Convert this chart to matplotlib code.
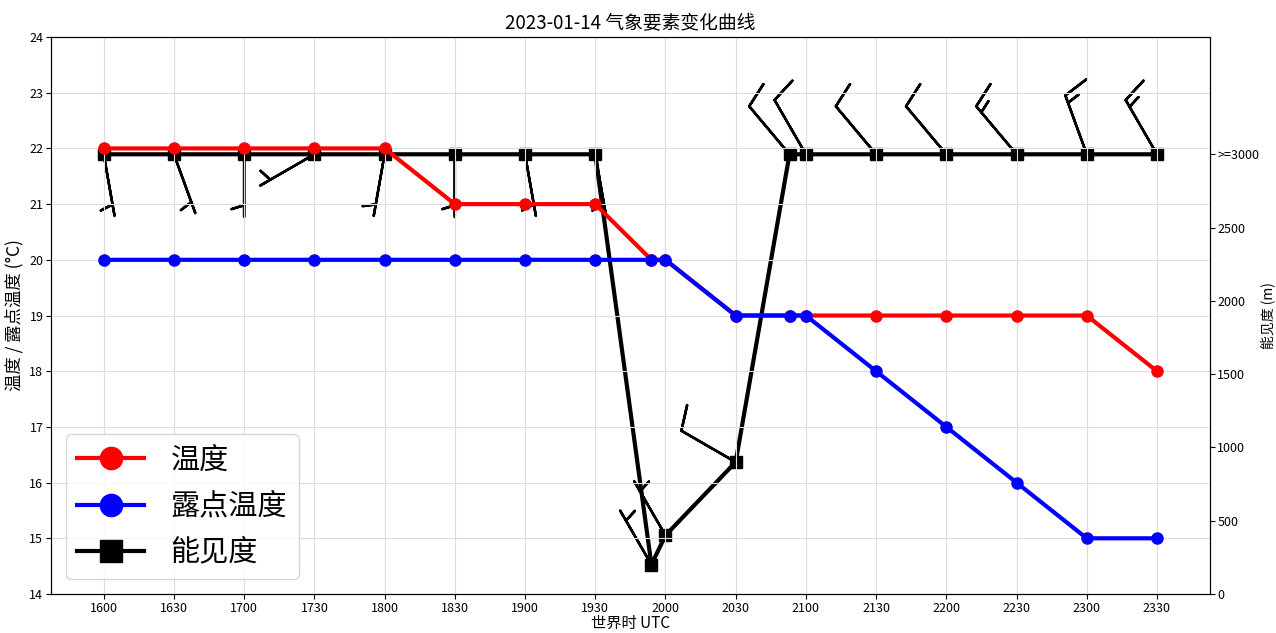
import numpy as np
import matplotlib
matplotlib.use("Agg")
import matplotlib.pyplot as plt

plt.rcParams['font.family'] = ['Noto Sans CJK SC', 'DejaVu Sans']
plt.rcParams['axes.unicode_minus'] = False

# observation times (UTC, hhmm)
times = ["1600", "1630", "1700", "1730", "1800", "1830", "1900", "1930", "1954",
         "2000", "2030", "2053", "2100", "2130", "2200", "2230", "2300", "2330"]
temperature = [22, 22, 22, 22, 22, 21, 21, 21, 20, 20, 19, 19, 19, 19, 19, 19, 19, 18]
dewpoint = [20, 20, 20, 20, 20, 20, 20, 20, 20, 20, 19, 19, 19, 18, 17, 16, 15, 15]
visibility = [3000, 3000, 3000, 3000, 3000, 3000, 3000, 3000, 200,
              400, 900, 3000, 3000, 3000, 3000, 3000, 3000, 3000]
wind_dir = [170, 160, 180, 240, 190, 180, 170, 170, 330, 330, 300, 320, 330, 320, 320, 320, 340, 330]
wind_speed = [5, 5, 5, 5, 5, 5, 5, 5, 5, 5, 10, 10, 10, 10, 10, 15, 15, 15]

tick_labels = ["1600", "1630", "1700", "1730", "1800", "1830", "1900", "1930",
               "2000", "2030", "2100", "2130", "2200", "2230", "2300", "2330"]


def to_minutes(t):
    return (int(t[:2]) - 16) * 60 + int(t[2:])


x = np.array([to_minutes(t) for t in times])
tick_pos = [to_minutes(t) for t in tick_labels]

# wind components from direction/speed
wd = np.radians(wind_dir)
u = -np.array(wind_speed) * np.sin(wd)
v = -np.array(wind_speed) * np.cos(wd)

fig, ax1 = plt.subplots(figsize=(12.76, 6.33), dpi=100)
fig.subplots_adjust(left=0.04, right=0.948, top=0.9415, bottom=0.0616)

l1, = ax1.plot(x, temperature, color='red', marker='o', markersize=8, linewidth=3, label='温度', zorder=2)
l2, = ax1.plot(x, dewpoint, color='blue', marker='o', markersize=8, linewidth=3, label='露点温度', zorder=3)
ax1.set_ylim(14, 24)
ax1.set_yticks(range(14, 25))
ax1.set_xticks(tick_pos)
ax1.set_xticklabels(tick_labels)
ax1.grid(True, color='#dddddd', linewidth=0.8)
ax1.set_xlabel('世界时 UTC', fontsize=11, labelpad=0)
ax1.set_ylabel('温度 / 露点温度 (°C)', fontsize=12.5)
ax1.set_title('2023-01-14 气象要素变化曲线', fontsize=13.5)
ax1.tick_params(labelsize=9, pad=2)

ax2 = ax1.twinx()
ax2.barbs(x, visibility, u, v, length=9.5, linewidth=1.8, barbcolor='black', zorder=3)
l3, = ax2.plot(x, visibility, color='black', marker='s', markersize=8, linewidth=3, label='能见度', zorder=4)
ax2.set_ylim(0, 3800)
ax2.set_yticks([0, 500, 1000, 1500, 2000, 2500, 3000])
ax2.set_yticklabels(['0', '500', '1000', '1500', '2000', '2500', '>=3000'])
ax2.set_ylabel('能见度 (m)', fontsize=10, labelpad=1)
ax2.tick_params(labelsize=9, pad=2)

ax1.set_zorder(ax2.get_zorder() + 1)
ax1.patch.set_visible(False)

ax1.legend(handles=[l1, l2, l3], loc='lower left', fontsize=21, markerscale=2,
           handlelength=2.3, handletextpad=0.9, labelspacing=0.55)

fig.savefig('out.png', dpi=100)
